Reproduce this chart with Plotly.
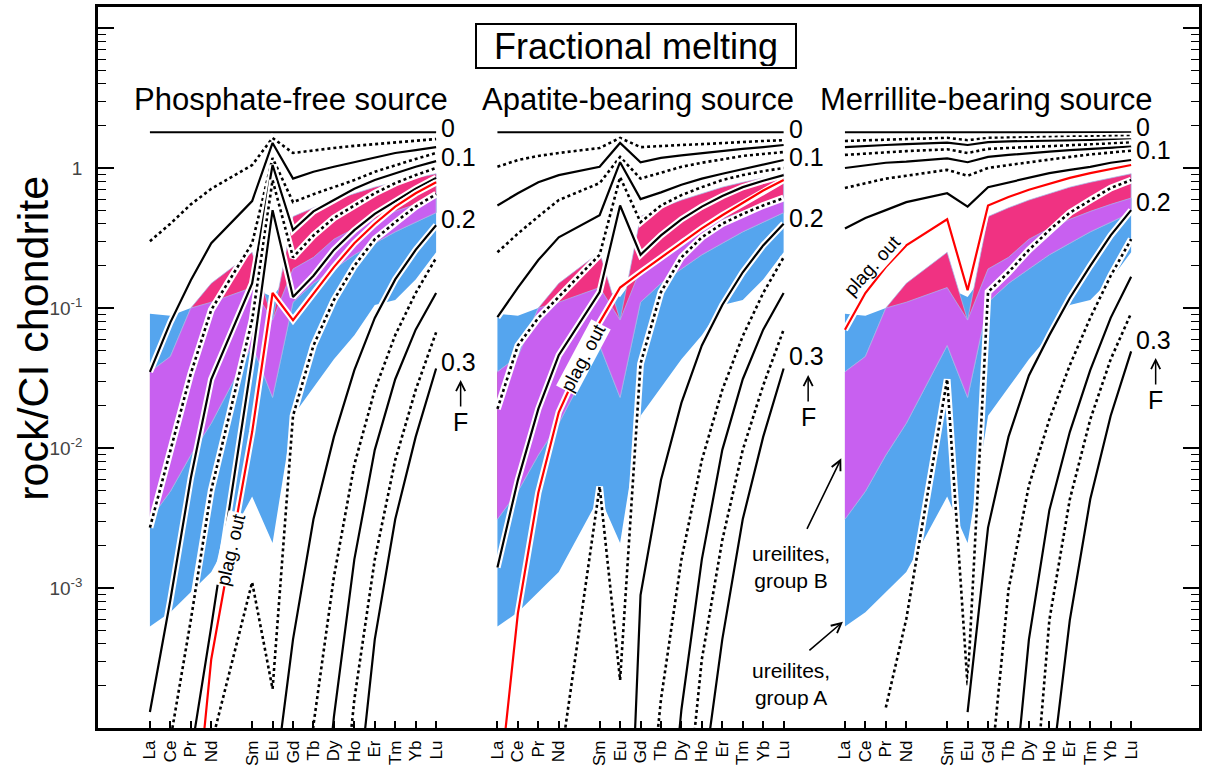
import numpy as np
import plotly.graph_objects as go

# ---------------------------------------------------------------
# Rare earth elements (Pm is skipped) and panel layout
# ---------------------------------------------------------------
REE = ["La", "Ce", "Pr", "Nd", "Sm", "Eu", "Gd", "Tb", "Dy", "Ho", "Er", "Tm", "Yb", "Lu"]
Z = [57, 58, 59, 60, 62, 63, 64, 65, 66, 67, 68, 69, 70, 71]
PANEL_TITLES = ["Phosphate-free source", "Apatite-bearing source", "Merrillite-bearing source"]
MELT_F = [0.0, 0.025, 0.05, 0.075, 0.1, 0.125, 0.15, 0.175, 0.2, 0.225, 0.25, 0.275, 0.3]

# ---------------------------------------------------------------
# Ureilite fields (rock / CI chondrite)
# ---------------------------------------------------------------
groupA_upper = [0.091, 0.088, 0.10, 0.11, 0.14, 0.12, 0.19, 0.23, 0.31, 0.37, 0.43, 0.49, 0.55, 0.61]
groupA_lower = [5.3e-4, 6.7e-4, 9.4e-4, 1.3e-3, 4.5e-3, 2.1e-3, 0.017, 0.027, 0.043, 0.064, 0.105, 0.114, 0.16, 0.25]
groupB_upper = [0.035, 0.045, 0.10, 0.15, 0.25, 0.082, 0.45, 0.52, 0.59, 0.66, 0.73, 0.79, 0.85, 0.91]
groupB_lower = [0.0031, 0.0049, 0.0089, 0.015, 0.054, 0.023, 0.11, 0.15, 0.19, 0.24, 0.29, 0.35, 0.41, 0.48]

# ---------------------------------------------------------------
# Fractional melting residues: phosphate-free source
# ---------------------------------------------------------------
pf_f000 = [1.8, 1.8, 1.8, 1.8, 1.8, 1.8, 1.8, 1.8, 1.8, 1.8, 1.8, 1.8, 1.8, 1.8]
pf_f025 = [0.30, 0.40, 0.55, 0.71, 1.05, 1.64, 1.28, 1.34, 1.39, 1.44, 1.48, 1.53, 1.57, 1.61]
pf_f050 = [0.035, 0.079, 0.158, 0.29, 0.58, 1.51, 0.84, 0.94, 1.02, 1.10, 1.20, 1.28, 1.34, 1.41]
pf_f075 = [0.0027, 0.0097, 0.034, 0.097, 0.29, 1.18, 0.57, 0.65, 0.73, 0.82, 0.94, 1.05, 1.16, 1.28]
pf_f100 = [1.3e-4, 8.2e-4, 0.0061, 0.031, 0.15, 1.05, 0.36, 0.49, 0.59, 0.71, 0.82, 0.92, 1.02, 1.12]
pf_f125 = [None, 8.2e-5, 5.9e-4, 0.005, 0.082, 0.82, 0.23, 0.33, 0.44, 0.54, 0.66, 0.78, 0.89, 1.0]
pf_f150 = [None, None, 6.4e-5, 5.3e-4, 0.043, 0.50, 0.12, 0.17, 0.26, 0.36, 0.47, 0.58, 0.71, 0.85]
pf_f175 = [None, None, 6e-6, 7.6e-5, 1.1e-3, 1.9e-4, 0.017, 0.054, 0.114, 0.20, 0.31, 0.41, 0.53, 0.65]
pf_f200 = [None, None, None, None, None, 3.1e-5, 4.3e-4, 3.1e-3, 0.012, 0.036, 0.085, 0.16, 0.26, 0.39]
pf_f225 = [None, None, None, None, None, None, 2.6e-6, 1.05e-4, 1.2e-3, 7.6e-3, 0.026, 0.064, 0.128, 0.228]
pf_f250 = [None, None, None, None, None, None, None, 4.3e-6, 1.2e-4, 1.6e-3, 9.7e-3, 0.031, 0.070, 0.128]
pf_f275 = [None, None, None, None, None, None, None, None, 5.9e-6, 1.6e-4, 1.6e-3, 8.2e-3, 0.026, 0.067]
pf_f300 = [None, None, None, None, None, None, None, None, None, 1.9e-5, 4.3e-4, 3.1e-3, 0.012, 0.037]
pf_plag_out = [None, None, 1e-5, 3.1e-4, 0.013, 0.128, 0.082, 0.128, 0.196, 0.29, 0.40, 0.53, 0.66, 0.79]

# ---------------------------------------------------------------
# Apatite-bearing source
# ---------------------------------------------------------------
ap_f000 = [1.8, 1.8, 1.8, 1.8, 1.8, 1.8, 1.8, 1.8, 1.8, 1.8, 1.8, 1.8, 1.8, 1.8]
ap_f025 = [1.02, 1.14, 1.22, 1.28, 1.39, 1.64, 1.41, 1.44, 1.46, 1.48, 1.51, 1.53, 1.56, 1.58]
ap_f050 = [0.54, 0.66, 0.79, 0.89, 1.02, 1.51, 1.10, 1.18, 1.23, 1.28, 1.32, 1.37, 1.41, 1.46]
ap_f075 = [0.25, 0.34, 0.45, 0.59, 0.78, 1.20, 0.84, 0.92, 1.02, 1.09, 1.16, 1.22, 1.26, 1.30]
ap_f100 = [0.086, 0.14, 0.22, 0.32, 0.46, 1.10, 0.60, 0.67, 0.76, 0.84, 0.91, 0.98, 1.05, 1.14]
ap_f125 = [0.019, 0.054, 0.085, 0.12, 0.24, 0.86, 0.41, 0.54, 0.64, 0.73, 0.82, 0.89, 0.95, 1.0]
ap_f150 = [0.0014, 0.0059, 0.019, 0.046, 0.13, 0.54, 0.24, 0.33, 0.43, 0.53, 0.63, 0.73, 0.81, 0.89]
ap_f175 = [None, None, 1.1e-6, 4.7e-5, 5.3e-3, 2.2e-4, 0.040, 0.13, 0.23, 0.32, 0.40, 0.47, 0.54, 0.61]
ap_f200 = [None, None, None, None, None, 2.2e-7, 8.9e-4, 5.9e-3, 0.021, 0.054, 0.105, 0.18, 0.28, 0.40]
ap_f225 = [None, None, None, None, None, None, 5.9e-6, 1.6e-4, 1.6e-3, 8.2e-3, 0.026, 0.063, 0.128, 0.23]
ap_f250 = [None, None, None, None, None, None, None, 4.3e-6, 1.35e-4, 1.6e-3, 9.7e-3, 0.031, 0.070, 0.128]
ap_f275 = [None, None, None, None, None, None, None, None, 1.1e-5, 3.1e-4, 2.2e-3, 9.7e-3, 0.028, 0.070]
ap_f300 = [None, None, None, None, None, None, None, None, None, 3.6e-5, 4.3e-4, 3.1e-3, 0.012, 0.037]
ap_plag_out = [2.8e-5, 6.6e-4, 4.8e-3, 0.018, 0.079, 0.14, 0.18, 0.23, 0.29, 0.37, 0.46, 0.56, 0.69, 0.82]

# ---------------------------------------------------------------
# Merrillite-bearing source
# ---------------------------------------------------------------
mb_f000 = [1.8, 1.8, 1.8, 1.8, 1.8, 1.8, 1.8, 1.8, 1.8, 1.8, 1.8, 1.8, 1.8, 1.8]
mb_f025 = [1.56, 1.58, 1.60, 1.61, 1.64, 1.58, 1.64, 1.65, 1.66, 1.66, 1.68, 1.68, 1.69, 1.69]
mb_f050 = [1.41, 1.44, 1.46, 1.48, 1.52, 1.46, 1.53, 1.55, 1.56, 1.57, 1.58, 1.58, 1.60, 1.60]
mb_f075 = [1.24, 1.27, 1.30, 1.32, 1.36, 1.28, 1.37, 1.39, 1.41, 1.44, 1.46, 1.48, 1.50, 1.52]
mb_f100 = [1.0, 1.05, 1.09, 1.11, 1.17, 1.10, 1.20, 1.24, 1.28, 1.31, 1.34, 1.37, 1.39, 1.42]
mb_f125 = [0.72, 0.78, 0.84, 0.88, 0.97, 0.88, 1.0, 1.05, 1.10, 1.16, 1.20, 1.25, 1.29, 1.33]
mb_f150 = [0.37, 0.44, 0.50, 0.57, 0.66, 0.53, 0.73, 0.79, 0.86, 0.92, 0.97, 1.02, 1.09, 1.14]
mb_f175 = [None, None, 1.4e-4, 6.0e-4, 0.031, 2.0e-4, 0.13, 0.18, 0.26, 0.36, 0.48, 0.59, 0.72, 0.82]
mb_f200 = [None, None, None, None, None, 1.3e-4, 2.7e-3, 0.012, 0.033, 0.064, 0.118, 0.20, 0.33, 0.50]
mb_f225 = [None, None, None, None, None, None, 3.1e-5, 9.7e-4, 5.4e-3, 0.016, 0.039, 0.085, 0.17, 0.31]
mb_f250 = [None, None, None, None, None, None, None, 1.35e-5, 4.3e-4, 3.6e-3, 0.013, 0.036, 0.085, 0.167]
mb_f275 = [None, None, None, None, None, None, None, None, 9.7e-6, 5.9e-4, 4.3e-3, 0.016, 0.043, 0.092]
mb_f300 = [None, None, None, None, None, None, None, None, None, 3.6e-5, 5.9e-4, 4.3e-3, 0.017, 0.049]
mb_plag_out = [0.070, 0.128, 0.196, 0.28, 0.43, 0.134, 0.54, 0.62, 0.70, 0.77, 0.85, 0.92, 0.98, 1.05]

PANEL_CURVES = [
    [pf_f000, pf_f025, pf_f050, pf_f075, pf_f100, pf_f125, pf_f150,
     pf_f175, pf_f200, pf_f225, pf_f250, pf_f275, pf_f300],
    [ap_f000, ap_f025, ap_f050, ap_f075, ap_f100, ap_f125, ap_f150,
     ap_f175, ap_f200, ap_f225, ap_f250, ap_f275, ap_f300],
    [mb_f000, mb_f025, mb_f050, mb_f075, mb_f100, mb_f125, mb_f150,
     mb_f175, mb_f200, mb_f225, mb_f250, mb_f275, mb_f300],
]
PANEL_PLAG_OUT = [pf_plag_out, ap_plag_out, mb_plag_out]

# ---------------------------------------------------------------
# Styling
# ---------------------------------------------------------------
FONT = "Liberation Sans, Arial, Helvetica, sans-serif"
BLUE = "#55A5EE"
PINK = "#F03282"
PURPLE = "#C860F0"
EDGE = "rgba(165,190,235,0.9)"
RED = "#FF0000"
PANEL_GAP = 17          # distance between panels in element units


def panel_x(p):
    return [z - Z[0] + PANEL_GAP * p for z in Z]


fig = go.Figure()


def add_field(xs, upper, lower, color, edge_width):
    fig.add_trace(go.Scatter(
        x=xs + xs[::-1], y=list(upper) + list(lower)[::-1],
        mode="lines", fill="toself", fillcolor=color,
        line=dict(width=edge_width, color=EDGE), hoverinfo="skip", showlegend=False))


def add_curve(xs, ys, color, dash, width):
    # white halo underneath, then the curve itself
    fig.add_trace(go.Scatter(x=xs, y=ys, mode="lines",
                             line=dict(color="white", width=width + 4.2),
                             hoverinfo="skip", showlegend=False))
    fig.add_trace(go.Scatter(x=xs, y=ys, mode="lines",
                             line=dict(color=color, width=width, dash=dash),
                             hoverinfo="skip", showlegend=False))


overlap_upper = np.minimum(groupA_upper, groupB_upper)
overlap_lower = np.maximum(groupA_lower, groupB_lower)

for p in range(3):
    xs = panel_x(p)
    add_field(xs, groupA_upper, groupA_lower, BLUE, 0)
    add_field(xs, groupB_upper, groupB_lower, PINK, 0.8)
    add_field(xs, overlap_upper, overlap_lower, PURPLE, 0.8)

for p in range(3):
    xs = panel_x(p)
    for k, (f, ys) in enumerate(zip(MELT_F, PANEL_CURVES[p])):
        if k % 2 == 0:
            add_curve(xs, ys, "black", "solid", 2.2)
        else:
            add_curve(xs, ys, "black", "dot", 2.6)
        if f == 0.15:
            add_curve(xs, PANEL_PLAG_OUT[p], RED, "solid", 2.2)

# ---------------------------------------------------------------
# Annotations
# ---------------------------------------------------------------
ann = []

ann.append(dict(text="Fractional melting", xref="x", yref="paper", x=23.76, y=0.946,
                xanchor="center", yanchor="middle",
                showarrow=False, font=dict(family=FONT, size=36, color="black"),
                bordercolor="black", borderwidth=2, bgcolor="white",
                width=316, height=40))

for p, title in enumerate(PANEL_TITLES):
    ann.append(dict(text=title, xref="x", yref="paper", x=PANEL_GAP * p + 6.9, y=0.872,
                    xanchor="center", yanchor="middle",
                    showarrow=False, font=dict(family=FONT, size=31, color="black")))

# F labels at the ends of selected curves
label_idx = {"0": 0, "0.1": 4, "0.2": 8, "0.3": 12}
label_shift = [
    {"0": 4, "0.1": 4, "0.2": 6, "0.3": 6},
    {"0": 3, "0.1": 3, "0.2": 6, "0.3": 12},
    {"0": 5, "0.1": -3, "0.2": 8, "0.3": 11},
]
arrow_tip = [0.0306, 0.0332, 0.044]
for p in range(3):
    lu_x = PANEL_GAP * p + 14
    for lab, k in label_idx.items():
        ann.append(dict(text=lab, xref="x", yref="y", x=lu_x, y=np.log10(PANEL_CURVES[p][k][-1]),
                        xanchor="left", yanchor="middle", xshift=4, yshift=label_shift[p][lab],
                        showarrow=False, borderpad=0,
                        font=dict(family=FONT, size=25, color="black")))
    ann.append(dict(text="F", xref="x", yref="y", x=lu_x + 1.2, y=np.log10(arrow_tip[p]),
                    ax=0, ay=42, showarrow=True, arrowhead=5, arrowsize=1.2, arrowwidth=1.5,
                    arrowcolor="black", standoff=0,
                    font=dict(family=FONT, size=25, color="black")))

# "plag. out" labels along the red curves
plag_labels = [(3.99, 10 ** -2.721, -77), (21.22, 10 ** -1.357, -62), (35.32, 10 ** -0.693, -48)]
for x, y, ang in plag_labels:
    ann.append(dict(text="plag. out", xref="x", yref="y", x=x, y=np.log10(y),
                    textangle=ang, showarrow=False, bgcolor="white", borderpad=0,
                    font=dict(family=FONT, size=19, color="black")))

# ureilite field labels with arrows
ann.append(dict(text="ureilites,<br>group B", xref="x", yref="y", x=31.37, y=-2.85,
                showarrow=False, align="center", font=dict(family=FONT, size=21, color="black")))
ann.append(dict(text="ureilites,<br>group A", xref="x", yref="y", x=31.37, y=-3.686,
                showarrow=False, align="center", font=dict(family=FONT, size=21, color="black")))
ann.append(dict(text="", xref="x", yref="y", x=33.82, y=-2.074, ax=-35, ay=72,
                showarrow=True, arrowhead=5, arrowsize=1.2, arrowwidth=1.6, arrowcolor="black"))
ann.append(dict(text="", xref="x", yref="y", x=33.9, y=-3.241, ax=-35, ay=30,
                showarrow=True, arrowhead=5, arrowsize=1.2, arrowwidth=1.6, arrowcolor="black"))

# y-axis title
ann.append(dict(text="rock/CI chondrite", xref="paper", yref="paper", x=-0.0598, y=0.540,
                xanchor="center", yanchor="middle",
                textangle=-90, showarrow=False, font=dict(family=FONT, size=43, color="black")))

# ---------------------------------------------------------------
# Axes
# ---------------------------------------------------------------
tick_x = [x for p in range(3) for x in panel_x(p)]
minor_vals = [k * 10.0 ** d for d in range(-4, 2) for k in range(2, 10)]

fig.update_layout(
    width=1206, height=773,
    margin=dict(l=98, r=4, t=7, b=45),
    paper_bgcolor="white", plot_bgcolor="white",
    showlegend=False,
    annotations=ann,
    xaxis=dict(range=[-2.54, 51.32], tickmode="array", tickvals=tick_x, ticktext=REE * 3,
               tickangle=-90, ticks="inside", ticklen=7, tickwidth=1.5, tickcolor="black",
               showline=True, linecolor="black", linewidth=2.5, mirror=True,
               showgrid=False, zeroline=False, ticklabelstandoff=3,
               tickfont=dict(family=FONT, size=17, color="black")),
    yaxis=dict(type="log", range=[-4.0, 1.15], tickmode="array",
               tickvals=[1e-4, 1e-3, 1e-2, 1e-1, 1, 10],
               ticktext=["", "10<sup>-3</sup>", "10<sup>-2</sup>", "10<sup>-1</sup>", "1", ""],
               ticks="inside", ticklen=16, tickwidth=1.5, tickcolor="black",
               minor=dict(ticks="inside", ticklen=8, tickwidth=1.3, tickcolor="black",
                          tickmode="array", tickvals=minor_vals, showgrid=False),
               showline=True, linecolor="black", linewidth=2.5, mirror="ticks",
               showgrid=False, zeroline=False, ticklabelstandoff=9,
               tickfont=dict(family=FONT, size=19, color="#444444")),
)

fig.write_html("out.html")
